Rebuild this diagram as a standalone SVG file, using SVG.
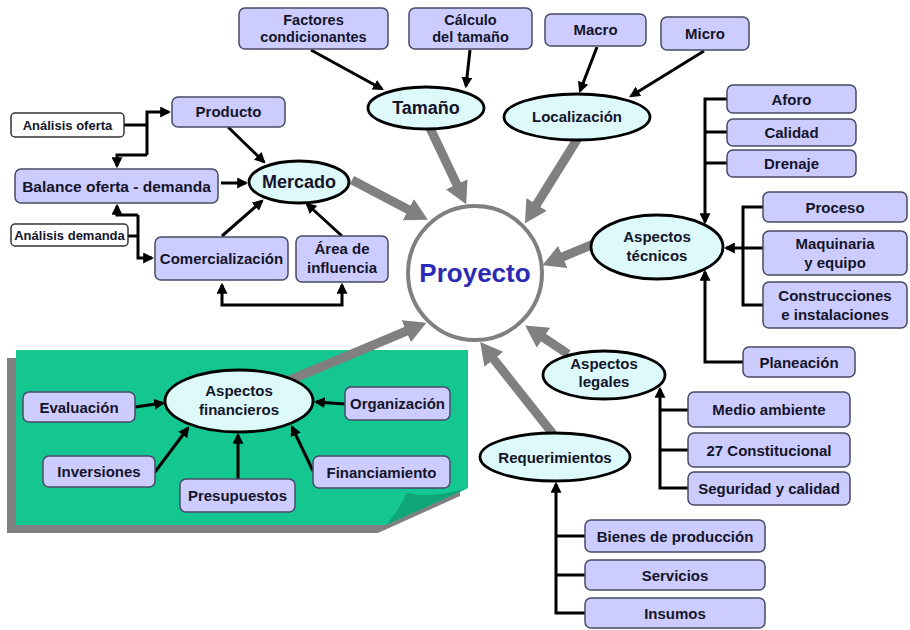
<svg xmlns="http://www.w3.org/2000/svg" width="910" height="630" viewBox="0 0 910 630">
  <defs>
    <marker id="ah" viewBox="0 0 10 10" refX="8" refY="5" markerWidth="11" markerHeight="11" markerUnits="userSpaceOnUse" orient="auto-start-reverse">
      <path d="M0,0 L10,5 L0,10 z" fill="#000"/>
    </marker>
    <marker id="gh" viewBox="0 0 22 24" refX="3" refY="12" markerWidth="22" markerHeight="24" markerUnits="userSpaceOnUse" orient="auto">
      <path d="M0,0 L22,12 L0,24 z" fill="#808080"/>
    </marker>
    <style>
      text { font-family: "Liberation Sans", Arial, sans-serif; font-weight: bold; fill: #14142a; text-anchor: middle; font-size: 15px; }
      .box { fill: #ccccff; stroke: #4a4a66; stroke-width: 1.5; }
      .wbox { fill: #ffffff; stroke: #333333; stroke-width: 1.5; }
      .ell { fill: #ddf9f9; stroke: #000; stroke-width: 2.8; }
      .small { font-size: 13px; }
      .big { font-size: 18px; }
      .blk { fill: none; stroke: #000; stroke-width: 3; }
      .arr { marker-end: url(#ah); }
      .gray { fill: none; stroke: #808080; stroke-width: 9; marker-end: url(#gh); }
    </style>
  </defs>

  <rect width="910" height="630" fill="#ffffff"/>

  <!-- green sheet behind the financial cluster -->
  <g id="panel">
    <path d="M7,358 H460 V496 L378,533 H7 Z" fill="#808080"/>
    <path d="M16,350 H468 V488 L386,525 H16 Z" fill="#14c690"/>
    <path d="M468,488 Q432,499 407,493 Q399,510 386,525 Z" fill="#0ea678"/>
  </g>

  <g id="connectors">
    <!-- thick grey arrows into the project -->
    <path class="gray" d="M430,128 L458,187"/>
    <path class="gray" d="M578,138 L535,207"/>
    <path class="gray" d="M352,180 L411,211"/>
    <path class="gray" d="M596,243 L560,258"/>
    <path class="gray" d="M568,354 L541,336"/>
    <path class="gray" d="M553,434 L492,357"/>
    <path class="gray" d="M290,380 L409,330"/>

    <!-- size and location -->
    <path class="blk arr" d="M311,50 L382,89"/>
    <path class="blk arr" d="M470,50 L466,86"/>
    <path class="blk arr" d="M597,47 L580,91"/>
    <path class="blk arr" d="M704,51 L631,96"/>

    <!-- market -->
    <path class="blk" d="M124,125 H147"/>
    <path class="blk arr" d="M147,155 V112 H169"/>
    <path class="blk arr" d="M147,155 H117 V166"/>
    <path class="blk" d="M128,236 H138"/>
    <path class="blk arr" d="M138,215 V258 H152"/>
    <path class="blk arr" d="M138,215 H117 V206"/>
    <path class="blk arr" d="M221,183 H246"/>
    <path class="blk arr" d="M228,127 L264,162"/>
    <path class="blk arr" d="M222,236 L262,201"/>
    <path class="blk arr" d="M342,236 L307,204"/>
    <path class="blk" d="M222,285 V305 H342 V285" marker-start="url(#ah)" marker-end="url(#ah)"/>

    <!-- technical aspects -->
    <path class="blk arr" d="M727,99 H705 V222"/>
    <path class="blk" d="M705,132 H727"/>
    <path class="blk" d="M705,163 H727"/>
    <path class="blk" d="M763,207 H743 V305 H763"/>
    <path class="blk arr" d="M763,248 H726"/>
    <path class="blk arr" d="M743,362 H705 V272"/>

    <!-- legal aspects -->
    <path class="blk arr" d="M688,488 H660 V389"/>
    <path class="blk" d="M660,410 H688"/>
    <path class="blk" d="M660,450 H688"/>

    <!-- requirements -->
    <path class="blk arr" d="M585,613 H556 V484"/>
    <path class="blk" d="M556,536 H585"/>
    <path class="blk" d="M556,575 H585"/>

    <!-- financial aspects -->
    <path class="blk arr" d="M135,407 L163,403"/>
    <path class="blk arr" d="M345,404 L316,402"/>
    <path class="blk arr" d="M155,472 L188,428"/>
    <path class="blk arr" d="M238,479 V435"/>
    <path class="blk arr" d="M313,471 L292,427"/>
  </g>

  <g id="proyecto">
    <circle cx="475" cy="273" r="67" fill="#ffffff" stroke="#808080" stroke-width="4"/>
    <text x="475" y="282" style="font-size:26px; fill:#2a2ab5">Proyecto</text>
  </g>

  <!-- size -->
  <g id="factores">
    <rect class="box" x="239" y="8" width="149" height="41" rx="6"/>
    <text x="313.5" y="25" style="font-size:14.5px">Factores</text>
    <text x="313.5" y="42" style="font-size:14.5px">condicionantes</text>
  </g>
  <g id="calculo">
    <rect class="box" x="409" y="8" width="123" height="41" rx="6"/>
    <text x="470.5" y="25" style="font-size:14.5px">Cálculo</text>
    <text x="470.5" y="42" style="font-size:14.5px">del tamaño</text>
  </g>
  <g id="tamano">
    <ellipse class="ell" cx="426" cy="108" rx="58" ry="21"/>
    <text class="big" x="426" y="114">Tamaño</text>
  </g>

  <!-- location -->
  <g id="macro">
    <rect class="box" x="545" y="14" width="101" height="32" rx="6"/>
    <text x="595.5" y="35">Macro</text>
  </g>
  <g id="micro">
    <rect class="box" x="661" y="17" width="88" height="33" rx="6"/>
    <text x="705" y="39">Micro</text>
  </g>
  <g id="localizacion">
    <ellipse class="ell" cx="577" cy="117" rx="73" ry="23"/>
    <text x="577" y="122">Localización</text>
  </g>

  <!-- market -->
  <g id="analisis-oferta">
    <rect class="wbox" x="11" y="113" width="113" height="24" rx="4"/>
    <text class="small" x="67.5" y="130">Análisis oferta</text>
  </g>
  <g id="producto">
    <rect class="box" x="172" y="97" width="113" height="30" rx="6"/>
    <text x="228.5" y="117">Producto</text>
  </g>
  <g id="balance">
    <rect class="box" x="15" y="169" width="203" height="34" rx="6"/>
    <text x="116.5" y="191.5" style="font-size:15.5px">Balance oferta - demanda</text>
  </g>
  <g id="mercado">
    <ellipse class="ell" cx="299" cy="182" rx="50" ry="21"/>
    <text class="big" x="299" y="188">Mercado</text>
  </g>
  <g id="analisis-demanda">
    <rect class="wbox" x="11" y="224" width="117" height="22" rx="4"/>
    <text class="small" x="69.5" y="240">Análisis demanda</text>
  </g>
  <g id="comercializacion">
    <rect class="box" x="155" y="237" width="133" height="43" rx="6"/>
    <text x="221.5" y="264">Comercialización</text>
  </g>
  <g id="area">
    <rect class="box" x="296" y="236" width="92" height="46" rx="6"/>
    <text x="342" y="254">Área de</text>
    <text x="342" y="273">influencia</text>
  </g>

  <!-- technical aspects -->
  <g id="aforo">
    <rect class="box" x="727" y="85" width="129" height="28" rx="6"/>
    <text x="791.5" y="104.5">Aforo</text>
  </g>
  <g id="calidad">
    <rect class="box" x="727" y="119" width="129" height="27" rx="6"/>
    <text x="791.5" y="138">Calidad</text>
  </g>
  <g id="drenaje">
    <rect class="box" x="727" y="150" width="129" height="27" rx="6"/>
    <text x="791.5" y="169">Drenaje</text>
  </g>
  <g id="proceso">
    <rect class="box" x="763" y="192" width="144" height="30" rx="6"/>
    <text x="835" y="212.5">Proceso</text>
  </g>
  <g id="maquinaria">
    <rect class="box" x="763" y="231" width="144" height="44" rx="6"/>
    <text x="835" y="249">Maquinaria</text>
    <text x="835" y="268">y equipo</text>
  </g>
  <g id="construcciones">
    <rect class="box" x="763" y="282" width="144" height="46" rx="6"/>
    <text x="835" y="301">Construcciones</text>
    <text x="835" y="320">e instalaciones</text>
  </g>
  <g id="planeacion">
    <rect class="box" x="743" y="347" width="112" height="30" rx="6"/>
    <text x="799" y="367.5">Planeación</text>
  </g>
  <g id="tecnicos">
    <ellipse class="ell" cx="657" cy="247" rx="66" ry="32"/>
    <text x="657" y="242">Aspectos</text>
    <text x="657" y="261">técnicos</text>
  </g>

  <!-- legal aspects -->
  <g id="legales">
    <ellipse class="ell" cx="604" cy="375" rx="61" ry="24"/>
    <text x="604" y="369">Aspectos</text>
    <text x="604" y="387">legales</text>
  </g>
  <g id="medio-ambiente">
    <rect class="box" x="688" y="392" width="162" height="35" rx="6"/>
    <text x="769" y="415">Medio ambiente</text>
  </g>
  <g id="constitucional">
    <rect class="box" x="688" y="433" width="162" height="34" rx="6"/>
    <text x="769" y="455.5">27 Constitucional</text>
  </g>
  <g id="seguridad">
    <rect class="box" x="688" y="472" width="162" height="33" rx="6"/>
    <text x="769" y="494">Seguridad y calidad</text>
  </g>

  <!-- requirements -->
  <g id="requerimientos">
    <ellipse class="ell" cx="555" cy="457" rx="75" ry="24"/>
    <text x="555" y="462.5">Requerimientos</text>
  </g>
  <g id="bienes">
    <rect class="box" x="585" y="520" width="180" height="32" rx="6"/>
    <text x="675" y="541.5">Bienes de producción</text>
  </g>
  <g id="servicios">
    <rect class="box" x="585" y="560" width="180" height="30" rx="6"/>
    <text x="675" y="580.5">Servicios</text>
  </g>
  <g id="insumos">
    <rect class="box" x="585" y="598" width="180" height="30" rx="6"/>
    <text x="675" y="618.5">Insumos</text>
  </g>

  <!-- financial aspects -->
  <g id="financieros">
    <ellipse class="ell" cx="239" cy="401" rx="74" ry="31"/>
    <text x="239" y="396">Aspectos</text>
    <text x="239" y="415">financieros</text>
  </g>
  <g id="evaluacion">
    <rect class="box" x="23" y="392" width="112" height="30" rx="6"/>
    <text x="79" y="412.5">Evaluación</text>
  </g>
  <g id="organizacion">
    <rect class="box" x="345" y="387" width="105" height="33" rx="6"/>
    <text x="397.5" y="409">Organización</text>
  </g>
  <g id="inversiones">
    <rect class="box" x="43" y="456" width="112" height="31" rx="6"/>
    <text x="99" y="477">Inversiones</text>
  </g>
  <g id="presupuestos">
    <rect class="box" x="180" y="479" width="115" height="33" rx="6"/>
    <text x="237.5" y="501">Presupuestos</text>
  </g>
  <g id="financiamiento">
    <rect class="box" x="313" y="456" width="137" height="32" rx="6"/>
    <text x="381.5" y="477.5">Financiamiento</text>
  </g>
</svg>
